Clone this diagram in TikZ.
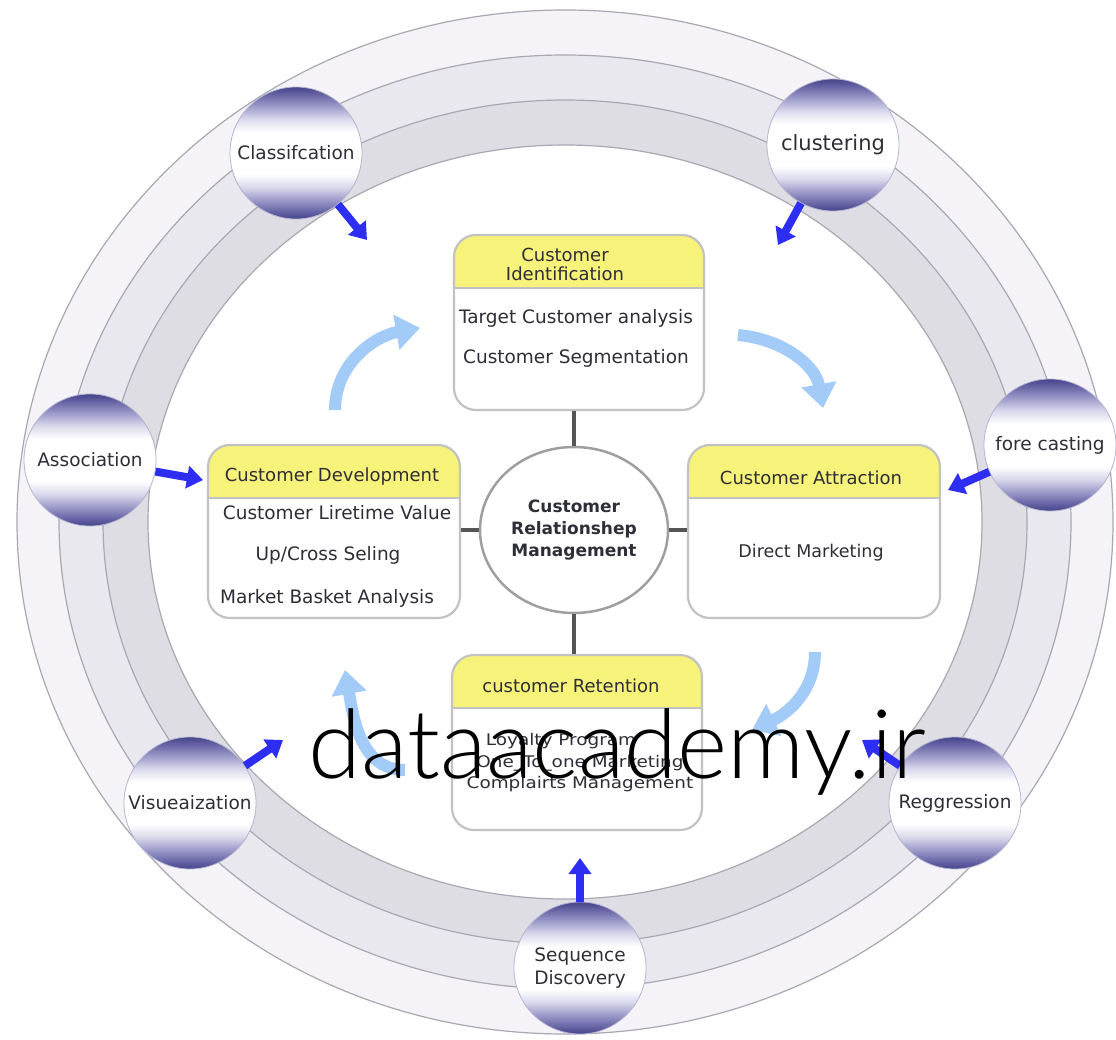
\documentclass[tikz,border=0pt]{standalone}
\usepackage{fontspec}
\setmainfont{DejaVu Sans}
\newfontfamily\wmfont{Lato Light}
\usetikzlibrary{arrows.meta,
	shapes.geometric
}
\definecolor{ringline}{HTML}{A9A7B0}
\definecolor{ringA}{HTML}{F6F3F8}
\definecolor{ringB}{HTML}{EAE8EF}
\definecolor{ringC}{HTML}{DEDDE3}
\definecolor{sphdark}{HTML}{45438B}
\definecolor{sphmid}{HTML}{8C8ABF}
\definecolor{sphlight}{HTML}{D9D8EC}
\definecolor{boxedge}{HTML}{C2C2C2}
\definecolor{hdryellow}{HTML}{F7F27A}
\definecolor{cyclecol}{HTML}{A3CBF7}
\definecolor{minecol}{HTML}{2E2EF2}
\definecolor{linkgray}{HTML}{555555}
\definecolor{txt}{HTML}{2E2E38}
\pgfdeclareverticalshading{sphere}{100bp}{color(0bp)=(sphdark); color(25bp)=(sphdark);
  color(31bp)=(sphmid); color(37bp)=(sphlight); color(42bp)=(white); color(58bp)=(white);
  color(63bp)=(sphlight); color(69bp)=(sphmid); color(75bp)=(sphdark); color(100bp)=(sphdark)}
\tikzset{
	ring/.style = {draw=ringline, line width=1.2pt},
	miner/.style = {circle, draw=sphdark!40, line width=0.8pt, shading=sphere,
		minimum size=132pt, inner sep=0pt, text=txt, align=center,
		font=\fontsize{18.5}{23}\selectfont},
	crmbox/.style = {rectangle, draw=boxedge, line width=2.2pt, rounded corners=22pt,
		fill=white, minimum width=250pt, minimum height=175pt,
		path picture={
			\fill[hdryellow, sharp corners] (path picture bounding box.north west)
				rectangle ([yshift=-53pt]path picture bounding box.north east);
			\draw[boxedge, line width=2.2pt, sharp corners]
				([yshift=-53pt]path picture bounding box.north west)
				-- ([yshift=-53pt]path picture bounding box.north east);
		}
	},
	hdrtext/.style = {text=txt, align=center, inner sep=0pt, font=\fontsize{18}{19}\selectfont},
	boxitem/.style = {text=txt, inner sep=0pt, font=\fontsize{18.5}{21}\selectfont},
	retitem/.style = {boxitem, font=\fontsize{16}{18}\selectfont},
	hub/.style = {ellipse, draw=gray!75, line width=2.5pt, fill=white, text=txt,
		minimum width=188pt, minimum height=166pt, inner sep=0pt, align=center,
		font=\bfseries\fontsize{17}{22}\selectfont},
	link/.style = {draw=linkgray, line width=4pt},
	cyclearrow/.style = {draw=cyclecol, line width=12pt, -{Triangle[length=24pt,width=34pt]}},
	minearrow/.style = {draw=minecol, line width=8pt, -{Triangle[length=16pt,width=22pt]}},
	watermark/.style = {inner sep=0pt, text=black, font=\wmfont\fontsize{96}{96}\selectfont}
}
\begin{document}
\begin{tikzpicture}[x=1pt,y=1pt]
 \useasboundingbox[fill=white] (0,0) rectangle (1116,-1040);

 % rings
 \fill[ringA] (565,-522) ellipse [x radius=548, y radius=512];
 \fill[ringB] (565,-522) ellipse [x radius=506, y radius=467];
 \fill[ringC] (565,-522) ellipse [x radius=462, y radius=422];
 \fill[white] (565,-522) ellipse [x radius=417, y radius=377];
 \foreach \rx/\ry in {548/512, 506/467, 462/422, 417/377}
  \draw[ring] (565,-522) ellipse [x radius=\rx, y radius=\ry];

 % the four stages
 \node[hub] (crm) at (574,-530) {Customer\\Relationshep\\Management};
 \node[crmbox] (idf) at (579,-322.5) {};
 \node[crmbox, minimum width=252pt, minimum height=173pt] (dev) at (334,-531.5) {};
 \node[crmbox, minimum width=252pt, minimum height=173pt] (att) at (814,-531.5) {};
 \node[crmbox] (ret) at (577,-742.5) {};
 \draw[link] (crm.north) -- (crm.north |- idf.south);
 \draw[link] (crm.south) -- (crm.south |- ret.north);
 \draw[link] (crm.west) -- (crm.west -| dev.east);
 \draw[link] (crm.east) -- (crm.east -| att.west);

 \node[hdrtext] (idfhead) at (565,-264) {Customer\\Identification};
 \node[boxitem] (idf1) at (576,-318) {Target Customer analysis};
 \node[boxitem] (idf2) at (576,-358) {Customer Segmentation};

 \node[hdrtext] (devhead) at (332,-477) {Customer Development};
 \node[boxitem] (dev1) at (337,-513) {Customer Liretime Value};
 \node[boxitem] (dev2) at (328,-555) {Up/Cross Seling};
 \node[boxitem] (dev3) at (327,-598) {Market Basket Analysis};

 \node[hdrtext] (atthead) at (811,-478) {Customer Attraction};
 \node[boxitem, font=\fontsize{17.5}{21}\selectfont] (att1) at (811,-553) {Direct Marketing};

 \node[hdrtext] (rethead) at (571,-686) {customer Retention};
 \node[retitem] (ret1) at (561,-741) {\scalebox{1.15}[1]{Loyalty Program}};
 \node[retitem] (ret2) at (580,-763) {\scalebox{1.15}[1]{One\_To\_one Marketing}};
 \node[retitem] (ret3) at (580,-784) {\scalebox{1.15}[1]{Complairts Management}};

 % cycle
 \coordinate (devout) at (335,-410);
 \coordinate (idfin) at (420,-328);
 \coordinate (idfout) at (738,-335);
 \coordinate (attin) at (823,-408);
 \coordinate (attout) at (815,-652);
 \coordinate (retin) at (752,-730);
 \coordinate (retout) at (405,-770);
 \coordinate (devin) at (345,-670);
 \draw[cyclearrow] (devout) to[out=90,in=190] (idfin);
 \draw[cyclearrow] (idfout) to[out=-5,in=100] (attin);
 \draw[cyclearrow] (attout) to[out=-90,in=25] (retin);
 \draw[cyclearrow] (retout) to[out=180,in=-80] (devin);

 % mining methods
 \node[miner] (classif) at (296,-153) {Classifcation};
 \node[miner, font=\fontsize{21}{24}\selectfont] (clust) at (833,-145) {clustering};
 \node[miner] (assoc) at (90,-460) {Association};
 \node[miner] (forecast) at (1050,-445) {fore casting};
 \node[miner] (visual) at (190,-803) {Visueaization};
 \node[miner] (regress) at (955,-803) {Reggression};
 \node[miner] (seqdisc) at (580,-968) {Sequence\\Discovery};

 \coordinate (classiftip) at (367,-240);
 \coordinate (clusttip) at (778,-245);
 \coordinate (assoctip) at (203,-480);
 \coordinate (forecasttip) at (948,-490);
 \coordinate (visualtip) at (283,-740);
 \coordinate (regresstip) at (862,-740);
 \coordinate (seqdisctip) at (580,-858);
 \foreach \m in {classif, clust, assoc, forecast, visual, regress, seqdisc}
  \draw[minearrow] (\m) -- (\m tip);

 \node[watermark, anchor=base west] (wm) at (308,-778) {dataacademy.ir};
\end{tikzpicture}
\end{document}
